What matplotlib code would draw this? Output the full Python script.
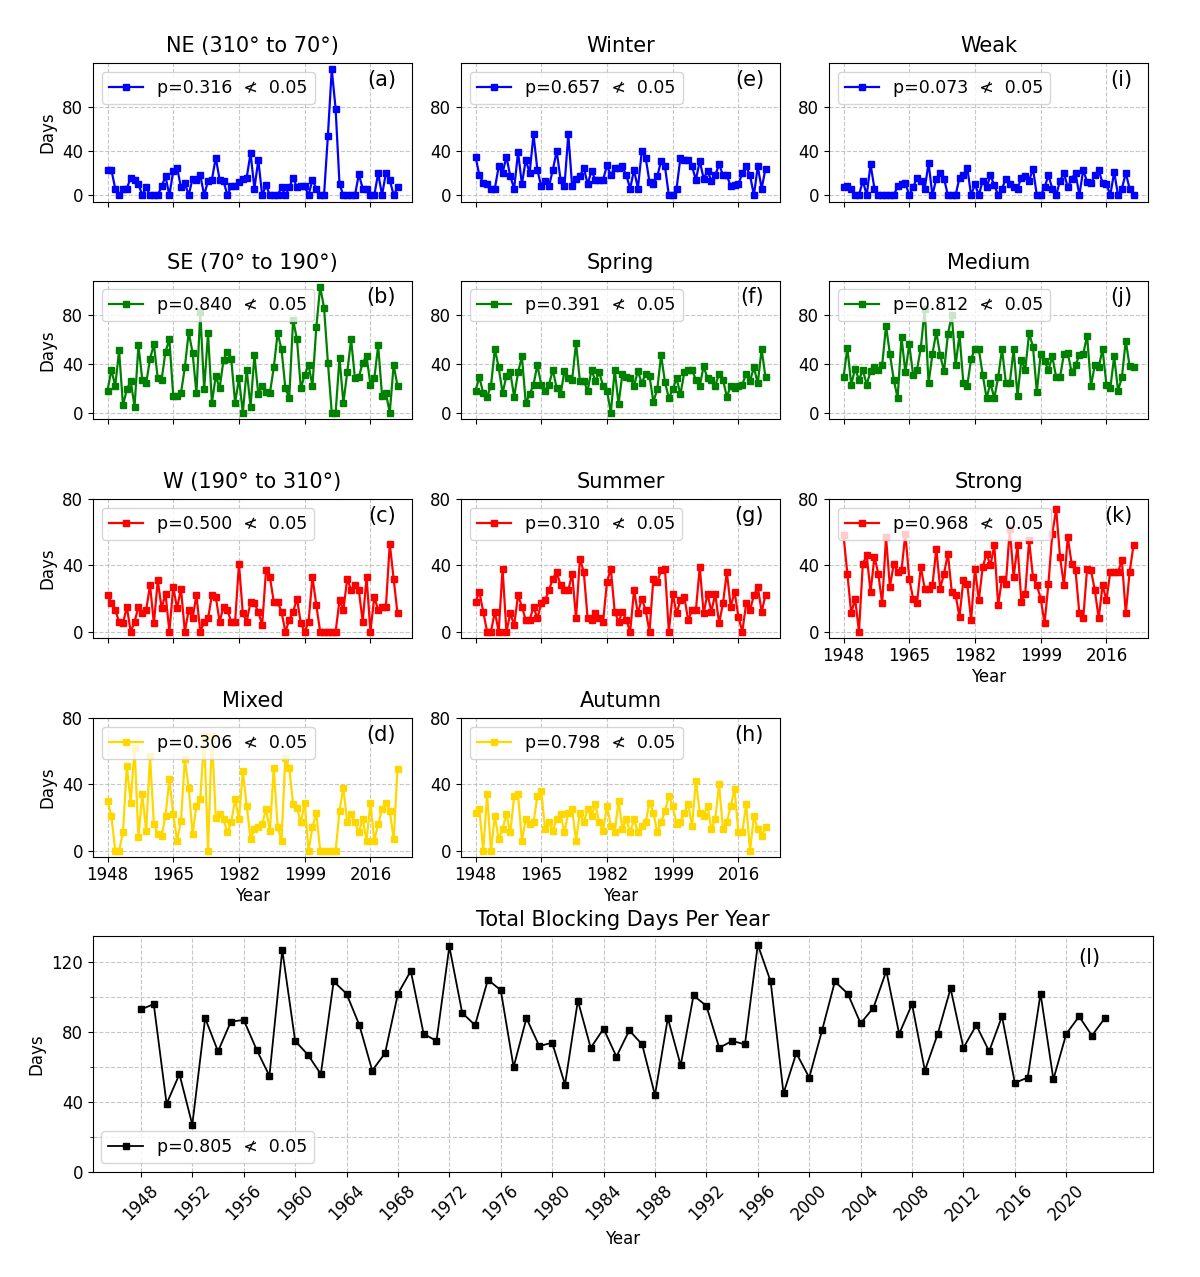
import matplotlib
matplotlib.use("Agg")
import matplotlib.pyplot as plt
from matplotlib.ticker import MultipleLocator

years = list(range(1948, 2024))

ne = [23,23,6,0,6,6,16,14,10,0, 7,0,0,0,8,17,0,22,25,7, 11,0,15,14,18,0,13,14,34,14,
      13,0,8,8,12,15,16,38,6,32, 0,9,0,0,0,7,0,7,16,7, 8,8,0,14,6,0,0,54,114,78,
      10,0,0,0,0,19,6,6,0,0, 20,0,20,14,0,7]
se = [18,35,22,51,6,19,26,5,55,27, 24,44,56,28,27,50,60,14,14,16, 37,66,49,16,82,19,65,8,30,20,
      43,50,44,8,28,0,35,5,47,15, 22,17,16,37,65,52,20,12,76,60, 20,31,39,22,70,103,86,41,0,0,
      45,8,33,60,28,29,41,46,23,28, 55,14,16,0,39,22]
w = [22,17,13,6,5,15,0,6,15,11, 13,28,5,31,14,23,0,27,14,26, 0,13,8,22,0,6,8,22,21,6,
     15,13,6,6,41,11,6,18,17,12, 4,37,33,18,18,12,0,7,12,20, 5,0,6,33,16,0,0,0,0,0,
     19,13,32,25,28,25,6,33,0,21, 13,15,15,53,32,11]
mixed = [30,21,0,0,11,51,29,62,8,34, 12,57,16,10,9,21,43,22,6,18, 55,38,10,27,31,69,0,69,20,22,
         19,11,17,31,19,48,27,7,13,14, 16,25,12,50,14,6,56,50,28,26, 17,29,0,14,23,0,0,0,0,0,
         24,38,17,22,17,11,19,6,29,6, 16,25,29,24,7,49]
winter = [35,18,11,10,6,6,26,20,35,17, 6,39,10,32,20,55,23,8,13,8, 23,40,14,8,55,8,15,17,25,10,
          22,14,14,14,27,18,25,25,26,18, 6,23,6,40,34,12,10,17,31,26, 0,0,6,34,32,32,26,14,31,15,
          22,13,18,28,18,18,8,9,10,20, 26,18,0,26,6,24]
spring = [18,29,16,13,22,52,37,16,30,33, 13,33,46,8,15,23,39,23,18,23, 35,20,15,34,28,27,57,26,26,18,
          35,26,33,22,18,0,35,7,32,29, 28,22,34,24,32,30,9,19,47,25, 12,19,28,15,33,35,35,27,22,38,
          28,27,22,32,27,13,22,20,22,23, 32,26,37,24,52,29]
summer = [18,24,12,0,0,12,0,38,0,11, 4,22,15,7,7,15,8,17,19,25, 32,36,28,25,25,35,8,44,36,8,
          7,11,8,6,30,38,12,6,12,7, 0,25,11,20,13,0,32,30,37,38, 0,23,11,19,21,7,13,13,39,11,
          23,12,23,5,17,36,15,24,9,0, 17,13,22,27,12,22]
autumn = [23,25,0,34,0,21,7,13,22,11, 33,34,6,19,16,17,33,36,13,17, 12,19,22,11,23,25,6,23,17,25,
          21,28,17,12,27,15,11,30,13,19, 11,19,11,15,17,29,23,11,17,24, 33,27,16,17,23,28,15,42,23,21,
          27,13,19,40,13,17,27,37,11,11, 28,0,21,13,9,14]
weak = [7,8,6,0,0,13,0,28,6,0, 0,0,0,0,8,10,11,0,7,16, 13,6,29,0,15,20,15,0,0,0,
        16,18,25,0,10,0,13,7,18,9, 0,6,15,10,7,6,16,17,13,24, 0,0,7,18,6,0,13,20,7,15,
        20,0,23,12,11,18,23,11,10,0, 21,0,6,20,6,0]
medium = [29,53,23,36,27,35,23,34,37,35, 39,71,48,27,12,62,33,56,31,35, 53,85,24,48,66,47,34,64,80,39,
          64,24,22,44,52,52,31,12,24,12, 29,52,24,24,52,14,43,35,65,54, 17,48,42,35,46,29,29,48,49,33,
          39,47,48,63,22,39,37,52,23,20, 46,18,29,59,38,37]
strong = [58,35,11,20,0,41,46,24,45,35, 17,57,27,41,36,37,59,32,20,17, 39,26,26,28,50,26,35,47,24,22,
          9,31,29,7,38,19,39,47,40,52, 16,32,29,62,33,52,18,23,55,33, 28,20,5,29,59,74,45,28,57,41,
          37,11,8,38,37,25,8,28,19,36, 36,36,43,11,36,52]
total = [93,96,39,56,27,88,69,86,87,70, 55,127,75,67,56,109,102,84,58,68, 102,115,79,75,129,91,84,110,104,60,
         88,72,74,50,98,71,82,66,81,73, 44,88,61,101,95,71,75,73,130,109, 45,68,54,81,109,102,85,94,115,79,
         96,58,79,105,71,84,69,89,51,54, 102,53,79,89,78,88]

titles = [["NE (310° to 70°)", "SE (70° to 190°)", "W (190° to 310°)", "Mixed"],
          ["Winter", "Spring", "Summer", "Autumn"],
          ["Weak", "Medium", "Strong"]]
series = [[ne, se, w, mixed], [winter, spring, summer, autumn], [weak, medium, strong]]
pvals = [[0.316, 0.840, 0.500, 0.306], [0.657, 0.391, 0.310, 0.798], [0.073, 0.812, 0.968]]
labels = [["(a)", "(b)", "(c)", "(d)"], ["(e)", "(f)", "(g)", "(h)"], ["(i)", "(j)", "(k)"]]
row_colors = ["blue", "green", "red", "gold"]
p_total = 0.805


def ptext(p):
    return f"p={p:.3f}  \u226e  0.05"


W, H = 1200, 1277
fig = plt.figure(figsize=(12, 12.77), dpi=100)

col_left = [93, 461, 829]
col_w = 319
row_top = [63, 280.5, 499, 718]
row_h = 138.5
row_ylim = [(-5.7, 119.7), (-5.15, 108.15), (-3.5, 80), (-3.5, 80)]

for c in range(3):
    nrows = len(series[c])
    for r in range(nrows):
        rect = [col_left[c] / W, 1 - (row_top[r] + row_h) / H, col_w / W, row_h / H]
        ax = fig.add_axes(rect)
        ax.plot(years, series[c][r], color=row_colors[r], marker="s", markersize=4,
                linewidth=1.6, label=ptext(pvals[c][r]))
        ax.set_ylim(*row_ylim[r])
        ax.set_yticks([0, 40, 80])
        ax.set_xticks([1948, 1965, 1982, 1999, 2016])
        ax.grid(True, linestyle="--", alpha=0.7)
        ax.set_title(titles[c][r], fontsize=15, pad=8)
        ax.legend(loc="upper left", fontsize=12.5)
        ax.text(0.95, 0.95, labels[c][r], transform=ax.transAxes, ha="right", va="top", fontsize=15)
        ax.tick_params(labelsize=12)
        if c == 0:
            ax.set_ylabel("Days", fontsize=12)
        if r == nrows - 1:
            ax.set_xlabel("Year", fontsize=12, labelpad=2)
        else:
            ax.tick_params(labelbottom=False)

axl = fig.add_axes([92.7 / W, 1 - 1172 / H, (1153 - 92.7) / W, 236 / H])
axl.plot(years, total, color="black", marker="s", markersize=4, linewidth=1.3,
         label=ptext(p_total))
axl.set_ylim(0, 135)
axl.set_yticks([0, 40, 80, 120])
axl.yaxis.set_minor_locator(MultipleLocator(20))
axl.set_xticks(list(range(1948, 2021, 4)))
axl.tick_params(axis="x", rotation=45)
axl.tick_params(labelsize=12)
axl.grid(True, which="both", linestyle="--", alpha=0.7)
axl.set_title("Total Blocking Days Per Year", fontsize=15, pad=7)
axl.set_ylabel("Days", fontsize=12)
axl.set_xlabel("Year", fontsize=12)
axl.legend(loc="lower left", fontsize=12.5)
axl.text(0.95, 0.95, "(l)", transform=axl.transAxes, ha="right", va="top", fontsize=15)

fig.savefig("out.png", dpi=100)
